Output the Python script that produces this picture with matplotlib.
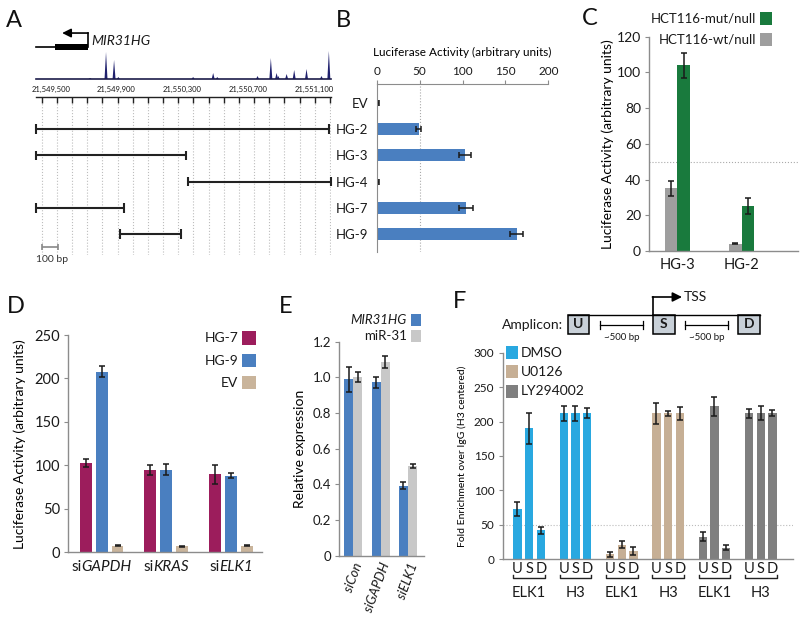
import numpy as np
import matplotlib
matplotlib.use('Agg')
import matplotlib.pyplot as plt
from matplotlib.patches import Rectangle
import matplotlib.transforms as mtrans

plt.rcParams['font.family'] = ['Lato', 'DejaVu Sans']
plt.rcParams['text.color'] = '#1a1a1a'
plt.rcParams['xtick.color'] = '#8c8c8c'
plt.rcParams['ytick.color'] = '#8c8c8c'
plt.rcParams['xtick.labelcolor'] = '#1a1a1a'
plt.rcParams['ytick.labelcolor'] = '#1a1a1a'

# ---------------- data ----------------
# Panel A
a_tick_pos = [21549500, 21549900, 21550300, 21550700, 21551100]
a_tick_labels = ['21,549,500', '21,549,900', '21,550,300', '21,550,700', '21,551,100']
peak_pos = [21549739, 21549836, 21549885, 21549911, 21550366, 21550488, 21550513,
            21550758, 21550839, 21550874, 21550884, 21550935, 21550981, 21551056,
            21551147, 21551192]
peak_h = [1, 27, 19, 2, 2, 6, 2, 3, 21, 6, 3, 5, 9, 10, 3, 28]
construct_names = ['HG-2', 'HG-3', 'HG-4', 'HG-7', 'HG-9']
construct_start = [21549411, 21549411, 21550334, 21549411, 21549921]
construct_end = [21551193, 21550322, 21551205, 21549946, 21550292]
gene_name = 'MIR31HG'
gene_tss = 21549727
gene_exon_start = 21549526

# Panel B
b_labels = ['EV', 'HG-2', 'HG-3', 'HG-4', 'HG-7', 'HG-9']
b_vals = [2, 49, 103, 2, 104, 163]
b_err = [1, 3, 7, 1, 8, 8]

# Panel C
c_groups = ['HG-3', 'HG-2']
c_wt = [35, 4]
c_wt_err = [4, 0.3]
c_mut = [104, 25]
c_mut_err = [7, 4.5]

# Panel D
d_prefix = 'si'
d_genes = ['GAPDH', 'KRAS', 'ELK1']
d_hg7 = [103, 95, 90]
d_hg7_err = [4.5, 6, 11]
d_hg9 = [208, 95, 88]
d_hg9_err = [6.5, 6.5, 3]
d_ev = [7.5, 7, 7.5]
d_ev_err = [0.8, 0.8, 0.8]

# Panel E
e_groups = ['siCon', 'siGAPDH', 'siELK1']
e_mir31hg = [0.99, 0.973, 0.392]
e_mir31hg_err = [0.07, 0.03, 0.02]
e_mir31 = [1.0, 1.087, 0.502]
e_mir31_err = [0.028, 0.035, 0.011]

# Panel F
f_treat = ['DMSO', 'DMSO', 'U0126', 'U0126', 'LY294002', 'LY294002']
f_target = ['ELK1', 'H3', 'ELK1', 'H3', 'ELK1', 'H3']
f_amplicons = ['U', 'S', 'D']
f_U = [73, 212, 7, 212, 33, 212]
f_S = [190, 212, 21, 212, 222, 212]
f_D = [42, 212, 12, 212, 17, 212]
f_U_err = [10, 11, 3.6, 15, 6.5, 6.5]
f_S_err = [22, 11, 5, 4, 14, 10]
f_D_err = [5.6, 7, 5.3, 9, 3.4, 4.4]

# colours
BLUE = '#4a7fc0'
GREEN = '#197a3d'
GRAY = '#9e9e9e'
MAROON = '#9c1d5c'
TAN = '#c9b49b'
LGRAY = '#c8c8c8'
CYAN = '#29a8e0'
FTAN = '#c6af95'
DGRAY = '#7f7f7f'
SPINE = '#8c8c8c'

W, H = 800, 618
fig = plt.figure(figsize=(8, 6.18), dpi=100)


def axpx(l, t, r, b):
    return fig.add_axes([l / W, 1 - b / H, (r - l) / W, (b - t) / H])


ov = fig.add_axes([0, 0, 1, 1])
ov.set_xlim(0, W)
ov.set_ylim(H, 0)
ov.axis('off')
ov.set_zorder(10)

# panel letters
for letter, x, y in [('A', 6, 27), ('B', 336, 27), ('C', 582, 25),
                     ('D', 7, 313), ('E', 279, 313), ('F', 453, 308)]:
    ov.text(x, y, letter, fontsize=17, va='baseline', ha='left', color='#111')


def style(ax):
    for s in ['top', 'right']:
        ax.spines[s].set_visible(False)
    for s in ['left', 'bottom']:
        ax.spines[s].set_color(SPINE)
        ax.spines[s].set_linewidth(1.0)
    ax.patch.set_alpha(0)


ekw = dict(ecolor='#1a1a1a', elinewidth=1.1, capsize=2.5, capthick=1.1)

# ---------------- Panel A ----------------
xa = (21549410, 21551205)
axG = axpx(36, 28, 331, 52)
axG.set_xlim(*xa)
axG.set_ylim(0, 1)
axG.axis('off')
axG.plot([xa[0], gene_exon_start], [0.21, 0.21], color='k', lw=1.2, clip_on=False)
axG.add_patch(Rectangle((gene_exon_start, 0.08), gene_tss - gene_exon_start, 0.26,
                        color='k', lw=0))
axG.plot([gene_tss, gene_tss], [0.21, 0.79], color='k', lw=1.2)
axG.annotate('', xy=(21549569, 0.79), xytext=(gene_tss, 0.79),
             arrowprops=dict(arrowstyle='-|>', color='k', lw=1.2, mutation_scale=13,
                             shrinkA=0, shrinkB=0))
axG.text(21549745, 0.46, gene_name, style='italic', fontsize=10, va='center', ha='left')

axS = axpx(36, 45, 331, 79)
axS.set_xlim(*xa)
axS.set_ylim(0, 34)
for s in ['top', 'right', 'left']:
    axS.spines[s].set_visible(False)
axS.spines['bottom'].set_color('#1c1c4a')
axS.spines['bottom'].set_linewidth(1.2)
axS.set_xticks([])
axS.set_yticks([])
axS.patch.set_alpha(0)
for p, h in zip(peak_pos, peak_h):
    axS.fill([p - 9, p, p + 9], [0, h, 0], color='#20216e', lw=0)

row_px0, row_step = 103, 26.2
axA = axpx(36, 97, 331, 255)
axA.set_xlim(*xa)
axA.set_ylim((255 - row_px0) / row_step, (97 - row_px0) / row_step)
for s in ['right', 'left', 'bottom']:
    axA.spines[s].set_visible(False)
axA.spines['top'].set_color('#222')
axA.spines['top'].set_linewidth(1.0)
axA.patch.set_alpha(0)
axA.set_yticks([])
axA.set_xticks(a_tick_pos)
axA.set_xticklabels(a_tick_labels)
axA.set_xticks(np.linspace(21549445, 21551198, 20), minor=True)
axA.tick_params(axis='x', which='major', top=True, bottom=False, labeltop=True,
                labelbottom=False, length=0, labelsize=5.5, pad=3)
axA.tick_params(axis='x', which='minor', top=True, bottom=False, direction='in',
                length=4, width=1, color='#222')
axA.grid(axis='x', which='minor', color='#bdbdbd', ls=':', lw=0.8)
for i, (s, e) in enumerate(zip(construct_start, construct_end)):
    r = i + 1
    axA.hlines(r, s, e, color='#222', lw=1.5, clip_on=False)
    axA.vlines([s, e], r - 0.18, r + 0.18, color='#222', lw=1.5, clip_on=False)
rb = (247 - row_px0) / row_step
axA.hlines(rb, 21549445, 21549545, color='#888', lw=1.2)
axA.vlines([21549445, 21549545], rb - 0.1, rb + 0.1, color='#888', lw=1.2)
axA.text(xa[0], (260 - row_px0) / row_step, '100 bp', fontsize=7.5, va='center', ha='left',
         color='#333')

# ---------------- Panel B ----------------
axB = axpx(376.7, 84, 548.3, 252)
axB.patch.set_alpha(0)
axB.set_xlim(0, 200)
axB.set_ylim((252 - row_px0) / row_step, (84 - row_px0) / row_step)
axB.barh(np.arange(len(b_labels)), b_vals, height=0.46, color=BLUE, xerr=b_err,
         error_kw=ekw, zorder=2)
axB.axvline(50, color='#aaaaaa', ls=':', lw=0.8, zorder=1)
for s in ['right', 'bottom']:
    axB.spines[s].set_visible(False)
for s in ['top', 'left']:
    axB.spines[s].set_color(SPINE)
axB.xaxis.tick_top()
axB.xaxis.set_label_position('top')
axB.set_xticks([0, 50, 100, 150, 200])
axB.tick_params(axis='x', length=3, labelsize=8.5, pad=2)
axB.set_xlabel('Luciferase Activity (arbitrary units)', fontsize=8.5, labelpad=7)
axB.set_yticks(np.arange(len(b_labels)))
axB.set_yticklabels(b_labels)
axB.tick_params(axis='y', length=0, labelsize=9.5, pad=6)

# ---------------- Panel C ----------------
axCc = axpx(649.3, 36.7, 798, 251)
style(axCc)
xc = np.arange(len(c_groups))
wc = 0.194
axCc.bar(xc - wc / 2, c_wt, wc, color=GRAY, yerr=c_wt_err, error_kw=ekw, zorder=2)
axCc.bar(xc + wc / 2, c_mut, wc, color=GREEN, yerr=c_mut_err, error_kw=ekw, zorder=2)
axCc.axhline(50, color='#aaaaaa', ls=':', lw=0.8, zorder=1)
axCc.set_xlim(-0.435, 1.874)
axCc.set_ylim(0, 120)
axCc.set_yticks(range(0, 121, 20))
axCc.tick_params(axis='y', length=3, labelsize=10, pad=3)
axCc.set_xticks(xc)
axCc.set_xticklabels(c_groups)
axCc.tick_params(axis='x', length=0, labelsize=10.5, pad=5)
axCc.set_ylabel('Luciferase Activity (arbitrary units)', fontsize=10, labelpad=2)
for lab, col, yc in [('HCT116-mut/null', GREEN, 18.5), ('HCT116-wt/null', GRAY, 39)]:
    ov.add_patch(Rectangle((760, yc - 6.5), 12, 13, color=col, lw=0))
    ov.text(756, yc, lab, ha='right', va='center', fontsize=9.5)

# ---------------- Panel D ----------------
axD = axpx(68.3, 335, 261.7, 552.3)
style(axD)
xd = np.arange(len(d_genes))
off, wd = 0.247, 0.185
axD.bar(xd - off, d_hg7, wd, color=MAROON, yerr=d_hg7_err, error_kw=ekw, zorder=2)
axD.bar(xd, d_hg9, wd, color=BLUE, yerr=d_hg9_err, error_kw=ekw, zorder=2)
axD.bar(xd + off, d_ev, wd, color=TAN, yerr=d_ev_err, error_kw=ekw, zorder=2)
axD.set_xlim(-0.513, 2.474)
axD.set_ylim(0, 250)
axD.set_yticks(range(0, 251, 50))
axD.tick_params(axis='y', length=3, labelsize=10.5, pad=3)
axD.set_xticks(xd)
axD.set_xticklabels([''] * len(xd))
axD.tick_params(axis='x', length=0)
axD.set_ylabel('Luciferase Activity (arbitrary units)', fontsize=10, labelpad=6)
# tick labels: roman "si" + italic gene name, centred under each group
trD = mtrans.blended_transform_factory(axD.transData, axD.transAxes)
renderer = fig.canvas.get_renderer()
for g, gene in zip(xd, d_genes):
    t1 = axD.text(g, -0.088, d_prefix, transform=trD, ha='left', va='baseline', fontsize=11)
    t2 = axD.text(g, -0.088, gene, transform=trD, ha='left', va='baseline', fontsize=11,
                  style='italic')
    w1 = t1.get_window_extent(renderer).width
    w2 = t2.get_window_extent(renderer).width
    tot = w1 + w2
    t1.set_transform(trD + mtrans.ScaledTranslation(-tot / 2 / fig.dpi, 0, fig.dpi_scale_trans))
    t2.set_transform(trD + mtrans.ScaledTranslation((w1 - tot / 2) / fig.dpi, 0,
                                                    fig.dpi_scale_trans))
for lab, col, yc in [('HG-7', MAROON, 338), ('HG-9', BLUE, 360.7), ('EV', TAN, 382.7)]:
    ov.add_patch(Rectangle((241.7, yc - 6.7), 14, 13.4, color=col, lw=0))
    ov.text(238, yc, lab, ha='right', va='center', fontsize=10)

# ---------------- Panel E ----------------
axE = axpx(339.3, 341.7, 424, 555.7)
style(axE)
xe = np.arange(len(e_groups))
we = 0.33
axE.bar(xe - we / 2, e_mir31hg, we, color=BLUE, yerr=e_mir31hg_err, error_kw=ekw, zorder=2)
axE.bar(xe + we / 2, e_mir31, we, color=LGRAY, yerr=e_mir31_err, error_kw=ekw, zorder=2)
axE.set_xlim(-0.512, 2.585)
axE.set_ylim(0, 1.2)
axE.set_yticks([0, 0.2, 0.4, 0.6, 0.8, 1.0, 1.2])
axE.set_yticklabels(['0', '0.2', '0.4', '0.6', '0.8', '1.0', '1.2'])
axE.tick_params(axis='y', length=3, labelsize=9.5, pad=3)
axE.set_xticks(xe)
axE.set_xticklabels(e_groups, rotation=70, ha='right', rotation_mode='anchor',
                    style='italic', fontsize=9.5)
axE.tick_params(axis='x', length=0, pad=4)
axE.set_ylabel('Relative expression', fontsize=10, labelpad=5)
ov.add_patch(Rectangle((410.5, 313.5), 10.5, 12, color=BLUE, lw=0))
ov.text(407, 319.5, 'MIR31HG', style='italic', ha='right', va='center', fontsize=9.5)
ov.add_patch(Rectangle((410.5, 330), 10.5, 12, color=LGRAY, lw=0))
ov.text(407, 336, 'miR-31', ha='right', va='center', fontsize=9.5)

# ---------------- Panel F ----------------
axF = axpx(502.7, 352.7, 792.7, 559.3)
style(axF)
tcol = {'DMSO': CYAN, 'U0126': FTAN, 'LY294002': DGRAY}
xf = np.arange(len(f_target))
offf, wf = 0.2527, 0.18
cols = [tcol[t] for t in f_treat]
for k, (vals, errs) in enumerate([(f_U, f_U_err), (f_S, f_S_err), (f_D, f_D_err)]):
    axF.bar(xf + (k - 1) * offf, vals, wf, color=cols, yerr=errs, error_kw=ekw, zorder=2)
axF.axhline(50, color='#bbbbbb', ls=':', lw=0.8, zorder=1)
axF.set_xlim(-0.572, 5.691)
axF.set_ylim(0, 300)
axF.set_yticks(range(0, 301, 50))
axF.tick_params(axis='y', length=3, labelsize=8.5, pad=3)
axF.set_xticks([])
axF.set_ylabel('Fold Enrichment over IgG (H3 centered)', fontsize=7.5, labelpad=5)
trF = mtrans.blended_transform_factory(axF.transData, axF.transAxes)
for g in xf:
    for k, am in enumerate(f_amplicons):
        axF.text(g + (k - 1) * offf, -0.048, am, transform=trF, ha='center', va='center',
                 fontsize=10.5, clip_on=False)
    xl, xr = g - offf - wf / 2, g + offf + wf / 2
    axF.plot([xl, xl, xr, xr], [-0.076, -0.0905, -0.0905, -0.076], transform=trF,
             color='#222', lw=1.0, clip_on=False)
    axF.text(g, -0.163, f_target[g], transform=trF, ha='center', va='center',
             fontsize=10.5, clip_on=False)
for lab, yc in [('DMSO', 352.7), ('U0126', 371.7), ('LY294002', 391)]:
    ov.add_patch(Rectangle((506, yc - 6.5), 12, 13, color=tcol[lab], lw=0))
    ov.text(521, yc, lab, ha='left', va='center', fontsize=10)

# F header diagram
ov.text(563, 325, 'Amplicon:', ha='right', va='center', fontsize=10)
ov.plot([567.7, 760], [314.5, 314.5], color='k', lw=1.0)
for lab, x0 in [('U', 567.7), ('S', 653), ('D', 738.4)]:
    ov.add_patch(Rectangle((x0, 314.5), 21.6, 19, fc='#c8d0d8', ec='k', lw=1.1))
    ov.text(x0 + 10.8, 324, lab, ha='center', va='center', fontsize=10, fontweight='bold')
ov.plot([653, 653], [314.5, 297], color='k', lw=1.2)
ov.annotate('', xy=(682, 297), xytext=(652.4, 297),
            arrowprops=dict(arrowstyle='-|>', color='k', lw=1.2, mutation_scale=14,
                            shrinkA=0, shrinkB=0))
ov.text(684, 297, 'TSS', ha='left', va='center', fontsize=10)
for x0, x1 in [(600, 642.7), (685, 728)]:
    ov.plot([x0, x1], [325, 325], color='k', lw=0.9)
    ov.plot([x0, x0], [321, 329], color='k', lw=0.9)
    ov.plot([x1, x1], [321, 329], color='k', lw=0.9)
    ov.text((x0 + x1) / 2, 337, '~500 bp', ha='center', va='center', fontsize=7)

fig.savefig('out.png', dpi=100)
